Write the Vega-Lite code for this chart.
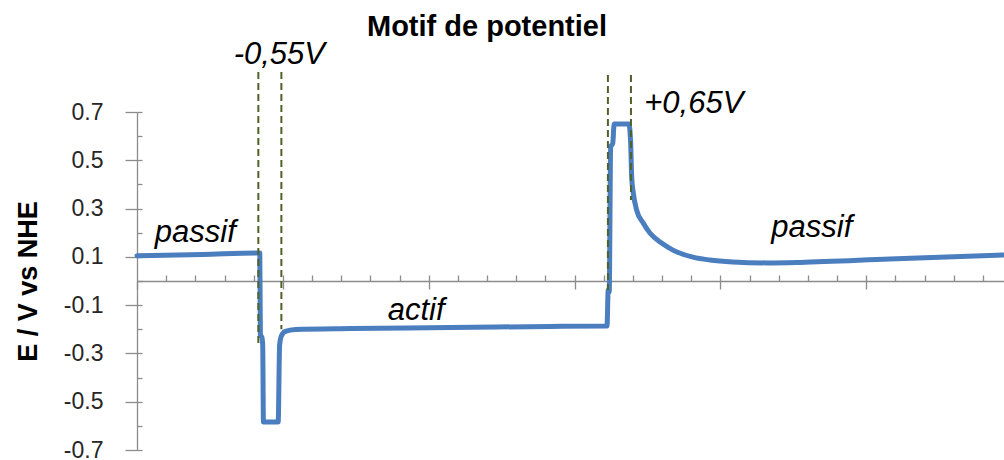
{
  "$schema": "https://vega.github.io/schema/vega-lite/v6.json",
  "width": 867,
  "height": 338,
  "autosize": {"type": "none"},
  "padding": {"left": 137, "top": 112, "right": 0, "bottom": 10},
  "background": "white",
  "config": {"view": {"stroke": null}},
  "datasets": {
    "potentiel": [
      {"t": 0.000, "E": 0.105},
      {"t": 0.450, "E": 0.110},
      {"t": 0.832, "E": 0.116},
      {"t": 0.842, "E": 0.116},
      {"t": 0.846, "E": -0.224},
      {"t": 0.856, "E": -0.232},
      {"t": 0.862, "E": -0.265},
      {"t": 0.867, "E": -0.584},
      {"t": 0.968, "E": -0.584},
      {"t": 0.978, "E": -0.265},
      {"t": 0.990, "E": -0.228},
      {"t": 1.017, "E": -0.209},
      {"t": 1.086, "E": -0.201},
      {"t": 1.462, "E": -0.197},
      {"t": 2.147, "E": -0.193},
      {"t": 2.832, "E": -0.188},
      {"t": 3.223, "E": -0.186},
      {"t": 3.231, "E": -0.037},
      {"t": 3.238, "E": -0.046},
      {"t": 3.248, "E": 0.555},
      {"t": 3.262, "E": 0.570},
      {"t": 3.272, "E": 0.650},
      {"t": 3.355, "E": 0.650},
      {"t": 3.373, "E": 0.650},
      {"t": 3.385, "E": 0.572},
      {"t": 3.392, "E": 0.431},
      {"t": 3.403, "E": 0.365},
      {"t": 3.426, "E": 0.294},
      {"t": 3.471, "E": 0.240},
      {"t": 3.517, "E": 0.199},
      {"t": 3.597, "E": 0.157},
      {"t": 3.675, "E": 0.128},
      {"t": 3.812, "E": 0.099},
      {"t": 3.928, "E": 0.087},
      {"t": 4.086, "E": 0.079},
      {"t": 4.318, "E": 0.075},
      {"t": 4.545, "E": 0.077},
      {"t": 5.161, "E": 0.091},
      {"t": 5.942, "E": 0.108}
    ],
    "reperes": [
      {"t": 0.832, "haut": 0.866, "bas": -0.265},
      {"t": 0.990, "haut": 0.866, "bas": -0.200},
      {"t": 3.229, "haut": 0.853, "bas": -0.037},
      {"t": 3.387, "haut": 0.853, "bas": 0.336}
    ],
    "annotations": [
      {"t": 0.976, "E": 0.899, "label": "-0,55V"},
      {"t": 3.818, "E": 0.696, "label": "+0,65V"},
      {"t": 0.400, "E": 0.163, "label": "passif"},
      {"t": 1.914, "E": -0.162, "label": "actif"},
      {"t": 4.627, "E": 0.182, "label": "passif"}
    ],
    "titre": [
      {"t": 2.400, "E": 1.015, "label": "Motif de potentiel"}
    ]
  },
  "layer": [
    {
      "data": {"name": "potentiel"},
      "mark": {"type": "line", "color": "#4a7ebf", "strokeWidth": 5, "strokeJoin": "round", "strokeCap": "round", "interpolate": "monotone"},
      "encoding": {
        "x": {
          "field": "t", "type": "quantitative",
          "scale": {"domain": [0, 5.945], "nice": false, "zero": false},
          "axis": {
            "orient": "bottom", "offset": -169, "values": [0, 1, 2, 3, 4, 5],
            "labels": false, "tickSize": 8, "grid": false, "title": null,
            "domainColor": "#8c8c8c", "tickColor": "#8c8c8c", "domainWidth": 1.3, "tickWidth": 1.3
          }
        },
        "y": {
          "field": "E", "type": "quantitative",
          "scale": {"domain": [-0.7, 0.7], "nice": false},
          "axis": {
            "orient": "left",
            "values": [-0.7, -0.5, -0.3, -0.1, 0.1, 0.3, 0.5, 0.7],
            "labelExpr": "(datum.value < 0 ? '-' : '') + format(abs(datum.value), '.1f')",
            "tickSize": 12, "labelPadding": 22,
            "labelFont": "Liberation Sans", "labelFontSize": 23, "labelColor": "#262626",
            "title": "E / V vs NHE", "titleFont": "Liberation Sans", "titleFontSize": 27,
            "titleFontWeight": "bold", "titleColor": "black", "titlePadding": 21,
            "grid": false, "domainColor": "#8c8c8c", "tickColor": "#8c8c8c", "domainWidth": 1.3, "tickWidth": 1.3
          }
        }
      }
    },
    {
      "data": {"name": "reperes"},
      "mark": {"type": "rule", "color": "#4f6228", "strokeWidth": 2, "strokeDash": [7, 4]},
      "encoding": {
        "x": {
          "field": "t", "type": "quantitative",
          "axis": {
            "orient": "bottom", "offset": -169,
            "values": [0.2, 0.4, 0.6, 0.8, 1, 1.2, 1.4, 1.6, 1.8, 2, 2.2, 2.4, 2.6, 2.8, 3, 3.2, 3.4, 3.6, 3.8, 4, 4.2, 4.4, 4.6, 4.8, 5, 5.2, 5.4, 5.6, 5.8],
            "labels": false, "domain": false, "tickSize": -6, "grid": false, "title": null,
            "tickColor": "#8c8c8c", "tickWidth": 1.3
          }
        },
        "y": {
          "field": "haut", "type": "quantitative",
          "axis": {
            "orient": "left",
            "values": [-0.7, -0.6, -0.5, -0.4, -0.3, -0.2, -0.1, 0, 0.1, 0.2, 0.3, 0.4, 0.5, 0.6, 0.7],
            "labels": false, "domain": false, "tickSize": -5, "grid": false, "title": null,
            "tickColor": "#8c8c8c", "tickWidth": 1.3
          }
        },
        "y2": {"field": "bas"}
      }
    },
    {
      "data": {"name": "annotations"},
      "mark": {"type": "text", "font": "Liberation Sans", "fontSize": 31, "fontStyle": "italic", "align": "center", "baseline": "alphabetic", "color": "black"},
      "encoding": {
        "x": {"field": "t", "type": "quantitative", "axis": null},
        "y": {"field": "E", "type": "quantitative", "axis": null},
        "text": {"field": "label"}
      }
    },
    {
      "data": {"name": "titre"},
      "mark": {"type": "text", "font": "Liberation Sans", "fontSize": 29, "fontWeight": "bold", "align": "center", "baseline": "alphabetic", "color": "black"},
      "encoding": {
        "x": {"field": "t", "type": "quantitative", "axis": null},
        "y": {"field": "E", "type": "quantitative", "axis": null},
        "text": {"field": "label"}
      }
    }
  ],
  "resolve": {"axis": {"x": "independent", "y": "independent"}}
}
